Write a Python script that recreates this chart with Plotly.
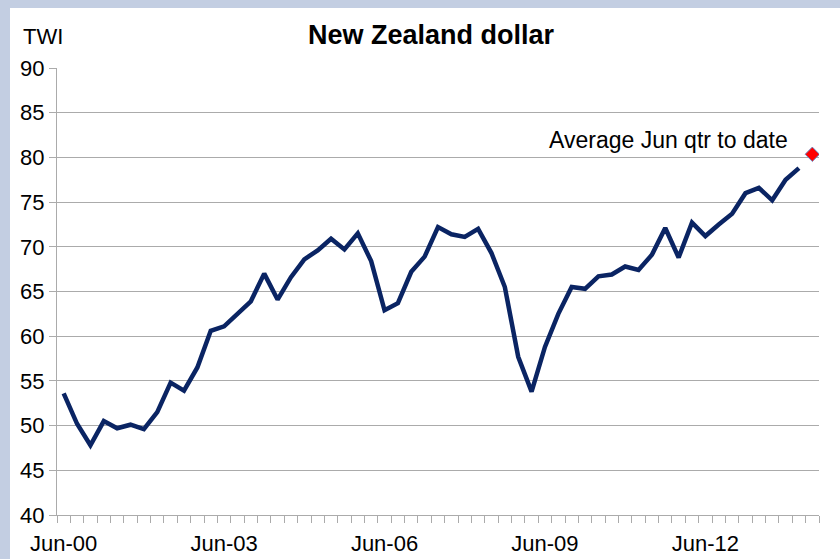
import plotly.graph_objects as go

# Quarterly trade-weighted index, Jun-00 through Mar-14
quarters = [f"{m}-{y:02d}" for y in range(0, 15) for m in ("Mar", "Jun", "Sep", "Dec")][1:58]
twi = [
    53.6, 50.2, 47.8, 50.5, 49.7, 50.1, 49.6, 51.5, 54.8, 53.9,
    56.5, 60.6, 61.1, 62.5, 63.9, 67.0, 64.1, 66.6, 68.6, 69.6,
    70.9, 69.7, 71.5, 68.4, 62.9, 63.7, 67.2, 68.9, 72.2, 71.4,
    71.1, 72.0, 69.3, 65.5, 57.7, 53.8, 58.8, 62.5, 65.5, 65.3,
    66.7, 66.9, 67.8, 67.4, 69.1, 72.1, 68.8, 72.7, 71.2, 72.5,
    73.7, 76.0, 76.6, 75.2, 77.5, 78.8,
]
# Average for the June 2014 quarter so far
jun_qtr_avg = 80.35

tick_labels = ["Jun-00", "Jun-03", "Jun-06", "Jun-09", "Jun-12"]
y_ticks = [40, 45, 50, 55, 60, 65, 70, 75, 80, 85, 90]

idx = list(range(len(quarters)))
label_pos = [quarters.index(t) for t in tick_labels]

W, H = 840, 559
ml, mr, mt, mb = 57, 21, 68, 44
pw, ph = W - ml - mr, H - mt - mb

def px_x(p):
    return (p - ml) / pw

def px_y(p):
    return (H - mb - p) / ph

FONT = "Liberation Sans, Arial, sans-serif"
NAVY = "#0A2463"
GRID = "#ABABAB"

fig = go.Figure()
fig.add_trace(go.Scatter(
    x=idx[:len(twi)], y=twi, mode="lines",
    line=dict(color=NAVY, width=4.5), hoverinfo="skip", showlegend=False,
))
fig.add_trace(go.Scatter(
    x=[idx[len(twi)]], y=[jun_qtr_avg], mode="markers",
    marker=dict(symbol="diamond", size=11, color="#FF0000",
                line=dict(color="#6A86C0", width=1)),
    hoverinfo="skip", showlegend=False,
))

fig.add_annotation(
    x=idx[len(twi)], y=jun_qtr_avg, xref="x", yref="y",
    text="Average Jun qtr to date", showarrow=False,
    xanchor="right", yanchor="bottom", xshift=-22, yshift=-1,
    font=dict(family=FONT, size=23, color="black"),
)
fig.add_annotation(
    x=px_x(21), y=px_y(22), xref="paper", yref="paper",
    text="TWI", showarrow=False, xanchor="left", yanchor="top",
    font=dict(family=FONT, size=22, color="black"),
)

# white chart panel over the tinted frame
fig.add_shape(
    type="rect", xref="paper", yref="paper", layer="below",
    x0=px_x(10), x1=px_x(W + 40), y0=px_y(H + 40), y1=px_y(8),
    fillcolor="white", line=dict(width=0),
)

fig.update_layout(
    width=W, height=H,
    margin=dict(l=ml, r=mr, t=mt, b=mb, pad=0, autoexpand=False),
    paper_bgcolor="#C3CEE2", plot_bgcolor="rgba(0,0,0,0)",
    title=dict(text="<b>New Zealand dollar</b>", x=431 / W, xanchor="center",
               y=1 - 35 / H, yanchor="middle",
               font=dict(family=FONT, size=27, color="black")),
    font=dict(family=FONT, size=22, color="black"),
)
fig.update_xaxes(
    range=[-0.5, len(quarters) - 0.5], automargin=False,
    tickmode="array", tickvals=label_pos, ticktext=tick_labels, ticks="",
    showgrid=False, zeroline=False,
    showline=True, linecolor=GRID, linewidth=1,
    minor=dict(tickmode="array", tickvals=[i - 0.5 for i in range(len(quarters) + 1)],
               ticks="outside", ticklen=7, tickcolor=GRID, tickwidth=1, showgrid=False),
    ticklabelstandoff=9,
    tickfont=dict(family=FONT, size=22, color="black"),
)
fig.update_yaxes(
    range=[40, 90], tickmode="array", tickvals=y_ticks, automargin=False,
    ticks="outside", ticklen=7, tickcolor=GRID, tickwidth=1,
    showgrid=True, gridcolor=GRID, gridwidth=1, zeroline=False,
    showline=True, linecolor=GRID, linewidth=1,
    tickfont=dict(family=FONT, size=22, color="black"),
)

fig.write_html("out.html")
